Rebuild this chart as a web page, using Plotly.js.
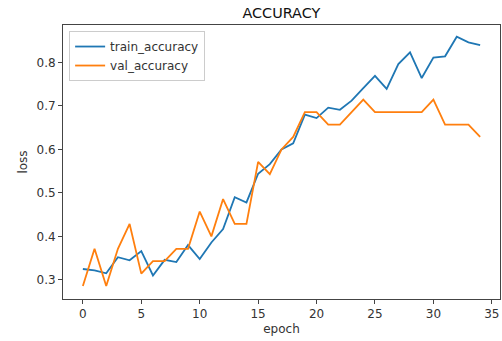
<!DOCTYPE html>
<html>
<head>
<meta charset="utf-8">
<script src="https://cdn.plot.ly/plotly-3.0.1.min.js"></script>
<style>html,body{margin:0;padding:0;background:#fff;}#chart{width:502px;height:341px;}</style>
</head>
<body>
<div id="chart"></div>
<script>
const epochs = [0,1,2,3,4,5,6,7,8,9,10,11,12,13,14,15,16,17,18,19,20,21,22,23,24,25,26,27,28,29,30,31,32,33,34];
const trainAccuracy = [0.325,0.322,0.315,0.352,0.345,0.366,0.310,0.346,0.341,0.380,0.348,0.386,0.417,0.490,0.478,0.544,0.566,0.600,0.614,0.680,0.672,0.696,0.691,0.712,0.741,0.769,0.739,0.796,0.823,0.764,0.811,0.814,0.859,0.846,0.840];
const valAccuracy = [0.2857,0.3714,0.2857,0.3714,0.4286,0.3143,0.3429,0.3429,0.3714,0.3714,0.4571,0.4000,0.4857,0.4286,0.4286,0.5714,0.5429,0.6000,0.6286,0.6857,0.6857,0.6571,0.6571,0.6857,0.7143,0.6857,0.6857,0.6857,0.6857,0.6857,0.7143,0.6571,0.6571,0.6571,0.6286];
const seriesNames = ["train_accuracy","val_accuracy"];
const xTicks = [0,5,10,15,20,25,30,35];
const yTicks = [0.3,0.4,0.5,0.6,0.7,0.8];

const font = "DejaVu Sans, sans-serif";
const data = [
  {x: epochs, y: trainAccuracy, name: seriesNames[0], type: "scatter", mode: "lines", line: {color: "#1f77b4", width: 1.8}},
  {x: epochs, y: valAccuracy, name: seriesNames[1], type: "scatter", mode: "lines", line: {color: "#ff7f0e", width: 1.8}}
];
const axisCommon = {
  showline: true, mirror: true, linecolor: "#444", linewidth: 1,
  ticks: "outside", ticklen: 4, tickwidth: 1, tickcolor: "#444",
  showgrid: false, zeroline: false,
  tickfont: {family: font, size: 12, color: "#333"}
};
const layout = {
  width: 502, height: 341,
  margin: {l: 63, r: 2, t: 25, b: 42},
  paper_bgcolor: "#fff", plot_bgcolor: "#fff",
  showlegend: true,
  title: {text: "ACCURACY", font: {family: font, size: 14.4, color: "#111"}, x: 0.5605, xanchor: "center", y: 0.962, yanchor: "middle"},
  xaxis: Object.assign({}, axisCommon, {range: [-1.7, 35.7], tickvals: xTicks, ticktext: xTicks.map(String),
    title: {text: "epoch", font: {family: font, size: 12, color: "#333"}, standoff: 4}}),
  yaxis: Object.assign({}, axisCommon, {range: [0.256, 0.886], tickvals: yTicks, ticktext: yTicks.map(v => v.toFixed(1)),
    title: {text: "loss", font: {family: font, size: 12, color: "#333"}, standoff: 6}}),
  legend: {x: 0.014, y: 0.978, xanchor: "left", yanchor: "top", bgcolor: "rgba(255,255,255,0.8)",
    bordercolor: "#ccc", borderwidth: 1, font: {family: font, size: 12, color: "#333"}, tracegroupgap: 0}
};
Plotly.newPlot("chart", data, layout, {displayModeBar: false, staticPlot: true});
</script>
</body>
</html>
